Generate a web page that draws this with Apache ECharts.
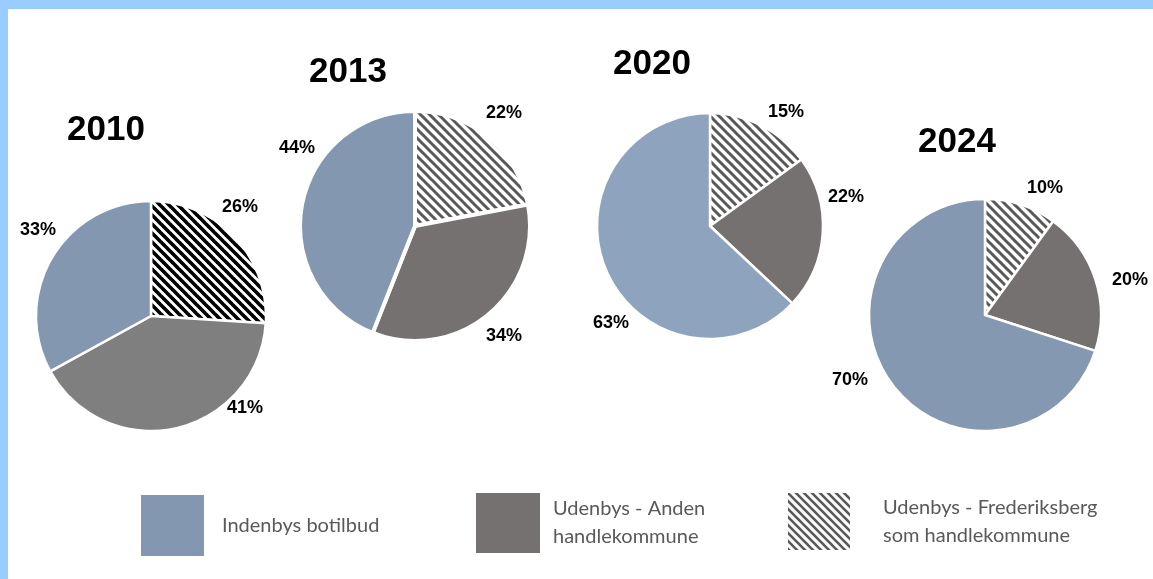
<!DOCTYPE html>
<html>
<head>
<meta charset="utf-8">
<script src="https://cdn.jsdelivr.net/npm/echarts@6/dist/echarts.min.js"></script>
<style>
  html, body { margin: 0; padding: 0; background: #ffffff; }
  #chart { width: 1153px; height: 579px; }
</style>
</head>
<body>
<div id="chart"></div>
<script>
// ---- Data ----
const years = ['2010', '2013', '2020', '2024'];
const categories = ['Udenbys - Frederiksberg som handlekommune', 'Udenbys - Anden handlekommune', 'Indenbys botilbud'];
const values2010 = [26, 41, 33];
const values2013 = [22, 34, 44];
const values2020 = [15, 22, 63];
const values2024 = [10, 20, 70];
const legendOrder = ['Indenbys botilbud', 'Udenbys - Anden handlekommune', 'Udenbys - Frederiksberg som handlekommune'];
const legendTexts = ['Indenbys botilbud', 'Udenbys - Anden\nhandlekommune', 'Udenbys - Frederiksberg\nsom handlekommune'];

const allValues = [values2010, values2013, values2020, values2024];

// ---- Layout / style ----
const pieLayout = [
  { center: [151, 316], r: 115, blue: '#8497B0', gray: '#7F7F7F', hatch: ['#000000', 9, 3.6], border: 2.5,
    labels: [[89, -109], [94, 92], [-113, -86]], title: [106, 128] },
  { center: [415, 226], r: 115, blue: '#8497B0', gray: '#767171', hatch: ['#595959', 9, 3], border: 4,
    labels: [[89, -113], [89, 110], [-118, -78]], title: [348, 70] },
  { center: [710, 226], r: 113, blue: '#8EA4BE', gray: '#767171', hatch: ['#595959', 9, 3], border: 2.5,
    labels: [[76, -114], [136, -29], [-99, 97]], title: [652, 62] },
  { center: [985, 315], r: 116, blue: '#8598B1', gray: '#767171', hatch: ['#595959', 9, 3], border: 2.5,
    labels: [[60, -127], [145, -35], [-135, 65]], title: [957, 140] }
];

function makeHatch(color, period, width) {
  const c = document.createElement('canvas');
  c.width = period; c.height = period;
  const ctx = c.getContext('2d');
  ctx.fillStyle = '#ffffff';
  ctx.fillRect(0, 0, period, period);
  ctx.strokeStyle = color;
  ctx.lineWidth = width;
  for (const k of [-period, 0, period]) {
    ctx.beginPath();
    ctx.moveTo(-2, -2 + k);
    ctx.lineTo(period + 2, period + 2 + k);
    ctx.stroke();
  }
  return { image: c, repeat: 'repeat' };
}

const chart = echarts.init(document.getElementById('chart'), null, { renderer: 'canvas' });

const series = allValues.map((vals, si) => {
  const L = pieLayout[si];
  const colors = [makeHatch(L.hatch[0], L.hatch[1], L.hatch[2]), L.gray, L.blue];
  return {
    type: 'pie',
    name: years[si],
    center: L.center,
    radius: [0, L.r],
    startAngle: 90,
    clockwise: true,
    animation: false,
    silent: true,
    selectedMode: false,
    avoidLabelOverlap: false,
    emphasis: { disabled: true },
    itemStyle: { borderColor: '#ffffff', borderWidth: L.border },
    label: {
      show: true,
      position: 'center',
      formatter: '{c}%',
      fontFamily: 'Liberation Sans',
      fontWeight: 'bold',
      fontSize: 18,
      color: '#000000'
    },
    labelLine: { show: false },
    labelLayout: function (p) {
      const off = L.labels[p.dataIndex];
      return { x: L.center[0] + off[0], y: L.center[1] + off[1], align: 'center', verticalAlign: 'middle' };
    },
    data: vals.map((v, i) => ({
      name: categories[i],
      value: v,
      itemStyle: { color: colors[i] }
    }))
  };
});

const legendHatch = makeHatch('#595959', 8, 2.6);
const legendBoxes = [
  { left: 141, top: 495, w: 63, h: 61, pad: 13, color: '#8497B0' },
  { left: 476, top: 493, w: 64, h: 60, pad: 8, color: '#767171' },
  { left: 788, top: 493, w: 62, h: 57, pad: 28, color: legendHatch }
];

const legends = legendOrder.map((name, i) => {
  const B = legendBoxes[i];
  return {
    show: true,
    left: B.left,
    top: B.top,
    orient: 'horizontal',
    padding: 0,
    itemWidth: B.w,
    itemHeight: B.h,
    selectedMode: false,
    icon: 'rect',
    data: [{ name: name, itemStyle: { color: B.color, borderWidth: 0 } }],
    formatter: function () { return legendTexts[i]; },
    textStyle: {
      fontFamily: 'Lato',
      fontSize: 20,
      lineHeight: 28,
      color: '#595959',
      padding: [0, 0, 0, B.pad]
    }
  };
});

const graphics = [
  { type: 'rect', shape: { x: 0, y: 0, width: 1153, height: 9 }, style: { fill: '#99CCFF' }, silent: true },
  { type: 'rect', shape: { x: 0, y: 0, width: 8, height: 579 }, style: { fill: '#99CCFF' }, silent: true }
].concat(years.map((y, i) => ({
  type: 'text',
  x: pieLayout[i].title[0],
  y: pieLayout[i].title[1] + 2,
  style: {
    text: y,
    fill: '#000000',
    font: 'bold 35px "Liberation Sans"',
    textAlign: 'center',
    textVerticalAlign: 'middle'
  },
  silent: true
})));

chart.setOption({
  backgroundColor: '#ffffff',
  animation: false,
  legend: legends,
  graphic: graphics,
  series: series
});
</script>
</body>
</html>
